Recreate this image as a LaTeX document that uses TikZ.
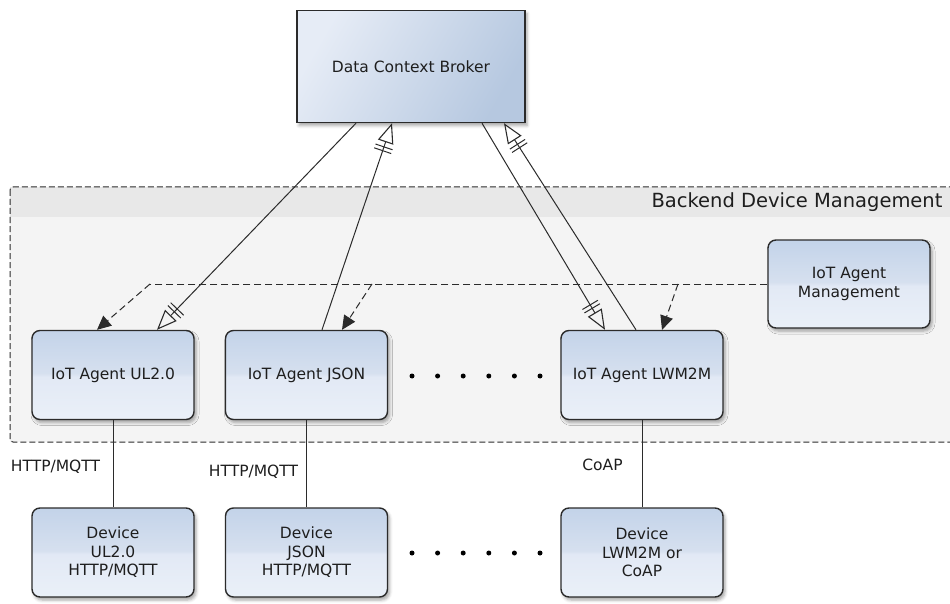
\documentclass[tikz,border=0pt]{standalone}
\usepackage{fontspec}
\setmainfont{DejaVu Sans}
\usetikzlibrary{arrows.meta,shadows.blur,decorations.markings,calc}

\definecolor{regionbody}{HTML}{F4F4F4}
\definecolor{regionhead}{HTML}{E8E8E8}
\definecolor{boxtop}{HTML}{C3D3E9}
\definecolor{boxmidA}{HTML}{D6E0EF}
\definecolor{boxmidB}{HTML}{E2E9F5}
\definecolor{boxbot}{HTML}{EAF0F8}
\definecolor{brokL}{HTML}{E6ECF6}
\definecolor{brokR}{HTML}{B6C8E0}
\definecolor{edgecol}{HTML}{2B2B2B}
\definecolor{textcol}{HTML}{1E1E1E}

% glossy vertical fill of the rounded boxes (bottom to top)
\pgfdeclareverticalshading{agentshade}{100bp}{%
  color(0bp)=(boxbot); color(25bp)=(boxbot); color(49bp)=(boxmidB);
  color(51bp)=(boxmidA); color(75bp)=(boxtop); color(100bp)=(boxtop)}
% diagonal fill of the broker box
\pgfdeclarehorizontalshading{brokershade}{100bp}{%
  color(0bp)=(brokL); color(25bp)=(brokL); color(75bp)=(brokR); color(100bp)=(brokR)}

\tikzset{
  every node/.style={text=textcol, font=\fontsize{15.5}{18.5}\selectfont},
  agentbox/.style={rectangle, rounded corners=8pt, draw=edgecol, line width=1.4pt,
    shading=agentshade, minimum width=162pt, minimum height=89pt, align=center,
    blur shadow={shadow xshift=2pt, shadow yshift=-3pt, shadow blur radius=3pt, shadow opacity=35}},
  brokerbox/.style={rectangle, draw=edgecol, line width=1.4pt,
    shading=brokershade, shading angle=-30, minimum width=228pt, minimum height=112pt,
    blur shadow={shadow xshift=2pt, shadow yshift=-3pt, shadow blur radius=3pt, shadow opacity=35}},
  bartip/.style={postaction=decorate, decoration={markings,
    mark=at position -25pt with {\draw[-, line width=1pt] (0pt,-9pt) -- (0pt,9pt);},
    mark=at position -29pt with {\draw[-, line width=1pt] (0pt,-9pt) -- (0pt,9pt);}}},
  hollowlink/.style={draw=edgecol, line width=1pt,
    -{Triangle[open, length=20pt, width=16pt, line width=1.1pt]}, bartip},
  mgmtlink/.style={draw=edgecol, line width=1pt, dash pattern=on 7pt off 4pt},
  mgmtarrow/.style={mgmtlink, -{Triangle[length=14pt, width=13pt]}},
  plainlink/.style={draw=edgecol, line width=1pt},
  dotmark/.style={circle, fill=black, inner sep=0pt, minimum size=5pt},
}

\begin{document}
\begin{tikzpicture}[x=1pt, y=-1pt]
  \useasboundingbox (0,0) rectangle (950,604);
  \clip (0,0) rectangle (950,604);

  % backend region: body, title band, dashed frame
  \fill[regionbody] (10,187) rectangle (960,442);
  \fill[regionhead] (10,187) rectangle (960,217);
  \draw[edgecol, line width=1pt, dash pattern=on 6pt off 3pt, rounded corners=3pt]
    (10,187) rectangle (960,442);
  \node[anchor=east, font=\fontsize{19.5}{22}\selectfont] (regiontitle) at (946,202)
    {Backend Device Management};

  % broker
  \node[brokerbox] (broker) at (411,66.5) {Data Context Broker};

  % agents
  \node[agentbox] (ul)   at (113,375)   {IoT Agent UL2.0};
  \node[agentbox] (json) at (306.5,375) {IoT Agent JSON};
  \node[agentbox] (lwm)  at (642,375)   {IoT Agent LWM2M};
  \node[agentbox, minimum height=88pt] (mgmt) at (849,284) {IoT Agent\\Management};

  % devices
  \node[agentbox] (dev1) at (113,552.5)   {Device\\UL2.0\\HTTP/MQTT};
  \node[agentbox] (dev2) at (306.5,552.5) {Device\\JSON\\HTTP/MQTT};
  \node[agentbox] (dev3) at (642,552.5)   {Device\\LWM2M or\\CoAP};

  % ellipsis dots
  \foreach \i in {0,...,5} {
    \node[dotmark] (rowa\i) at (412+25.6*\i,376) {};
    \node[dotmark] (rowb\i) at (412+25.6*\i,553) {};
  }

  % broker <-> agents
  \draw[hollowlink] ([xshift=-55pt]broker.south) -- ([xshift=44pt]ul.north);
  \draw[hollowlink] ([xshift=15.5pt]json.north) -- ([xshift=-19pt]broker.south);
  \draw[hollowlink] ([xshift=71pt]broker.south) -- ([xshift=-37pt]lwm.north);
  \draw[hollowlink] ([xshift=-6pt]lwm.north) -- ([xshift=93pt]broker.south);

  % management fan-out
  \coordinate (bendL) at (150,284);
  \coordinate (forkJ) at (372,284);
  \coordinate (forkW) at (678,284);
  \draw[mgmtlink] (mgmt.west) -- (bendL);
  \draw[mgmtarrow] (bendL) -- ([xshift=-16pt]ul.north);
  \draw[mgmtarrow] (forkJ) -- ([xshift=35.5pt]json.north);
  \draw[mgmtarrow] (forkW) -- ([xshift=20pt]lwm.north);

  % agents to devices
  \draw[plainlink] (ul.south) -- (dev1.north);
  \draw[plainlink] (json.south) -- (dev2.north);
  \draw[plainlink] (lwm.south) -- (dev3.north);

  % protocol labels
  \node (proto1) at (55.5,467) {HTTP/MQTT};
  \node (proto2) at (253.5,472) {HTTP/MQTT};
  \node (proto3) at (602.5,465) {CoAP};
\end{tikzpicture}
\end{document}
